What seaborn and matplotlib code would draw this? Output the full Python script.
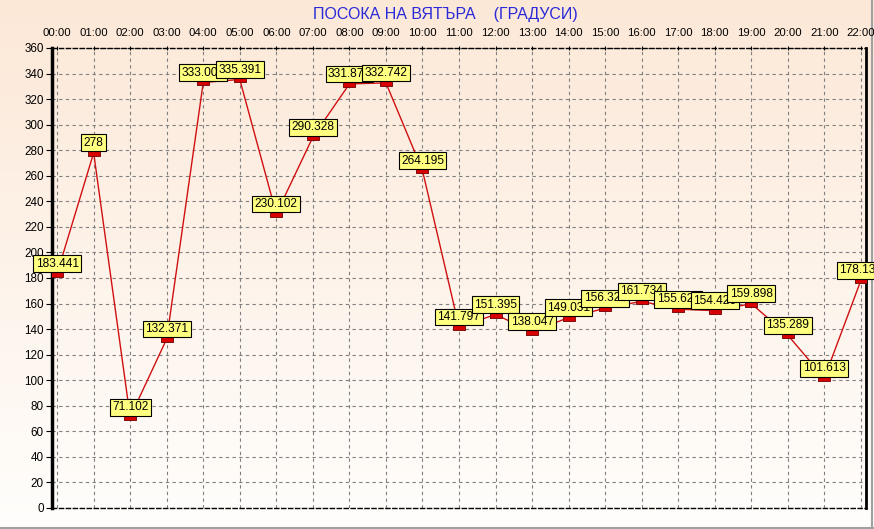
import numpy as np
import pandas as pd
import matplotlib
matplotlib.use("Agg")
import matplotlib.pyplot as plt
import seaborn as sns

hours = ["00:00", "01:00", "02:00", "03:00", "04:00", "05:00", "06:00", "07:00",
         "08:00", "09:00", "10:00", "11:00", "12:00", "13:00", "14:00", "15:00",
         "16:00", "17:00", "18:00", "19:00", "20:00", "21:00", "22:00"]
values = [183.441, 278, 71.102, 132.371, 333.003, 335.391, 230.102, 290.328,
          331.875, 332.742, 264.195, 141.797, 151.395, 138.047, 149.031, 156.324,
          161.734, 155.625, 154.426, 159.898, 135.289, 101.613, 178.133]
labels = ["183.441", "278", "71.102", "132.371", "333.003", "335.391", "230.102",
          "290.328", "331.875", "332.742", "264.195", "141.797", "151.395", "138.047",
          "149.031", "156.324", "161.734", "155.625", "154.426", "159.898", "135.289",
          "101.613", "178.133"]
yticks = list(range(0, 361, 20))
title = "ПОСОКА НА ВЯТЪРА    (ГРАДУСИ)"

sns.set_style("white")
plt.rcParams["font.family"] = ["Liberation Sans", "DejaVu Sans"]

W, H = 874, 529
fig = plt.figure(figsize=(W / 100, H / 100), dpi=100)

# gradient background
bg = fig.add_axes([0, 0, 1, 1], zorder=-10)
top = np.array([252, 232, 215]) / 255.0
bot = np.array([255, 254, 252]) / 255.0
t = np.linspace(0, 1, 256)[:, None]
grad = top[None, :] * (1 - t) + bot[None, :] * t
grad = np.repeat(grad[:, None, :], 2, axis=1)
bg.imshow(grad, aspect="auto", extent=[0, 1, 0, 1], origin="upper")
bg.set_xlim(0, 1)
bg.set_ylim(0, 1)
bg.axis("off")
# window border lines bottom/right
bg.plot([0, 1], [1.5 / H, 1.5 / H], color="#a0a0a0", lw=1.5, transform=bg.transAxes)
bg.plot([1 - 2.5 / W, 1 - 2.5 / W], [1.5 / H, 1], color="#a0a0a0", lw=1.5, transform=bg.transAxes)

ax = fig.add_axes([52 / W, 1 - 508 / H, (866 - 52) / W, (508 - 48) / H])
ax.set_facecolor("none")

df = pd.DataFrame({"pos": np.arange(len(hours)), "value": values})
rect = [(-1, -0.55), (1, -0.55), (1, 0.55), (-1, 0.55), (-1, -0.55)]
sns.lineplot(data=df, x="pos", y="value", ax=ax, color="#d01010", linewidth=1.0,
             marker=rect, markersize=8, markerfacecolor="#d80000",
             markeredgecolor="#700000", markeredgewidth=0.6, zorder=3)

for i, (v, lab) in enumerate(zip(values, labels)):
    ax.annotate(lab, (i, v), xytext=(0, 2.8), textcoords="offset points",
                ha="center", va="bottom", fontsize=8.6, color="black", zorder=5 + i,
                bbox=dict(boxstyle="square,pad=0.2", fc="#ffff80", ec="black", lw=0.8),
                annotation_clip=False)

ax.set_xlim(-0.14, 22.14)
ax.set_ylim(0, 360)
ax.set_xticks(np.arange(len(hours)))
ax.set_xticklabels(hours)
ax.set_yticks(yticks)
ax.set_yticklabels([str(v) for v in yticks])
ax.xaxis.tick_top()
ax.tick_params(axis="x", top=True, bottom=False, labeltop=True, labelbottom=False,
               length=3, direction="inout", pad=6, labelsize=8.2, colors="black")
ax.tick_params(axis="y", left=True, length=4, direction="out", pad=2,
               labelsize=8.4, colors="black")
ax.set_xlabel("")
ax.set_ylabel("")
ax.grid(True, color="#808080", linestyle=(0, (3, 3)), linewidth=0.8)
ax.set_axisbelow(True)

for s in ["top", "bottom"]:
    ax.spines[s].set_color("black")
    ax.spines[s].set_linestyle((0, (3, 2)))
    ax.spines[s].set_linewidth(1.0)
ax.spines["left"].set_color("black")
ax.spines["left"].set_linewidth(2.5)
ax.spines["right"].set_color("black")
ax.spines["right"].set_linewidth(2.0)

fig.text(445 / W, 1 - 14 / H, title, ha="center", va="center", fontsize=11.5,
         color="#2a2ad8")

fig.savefig("out.png", dpi=100)
